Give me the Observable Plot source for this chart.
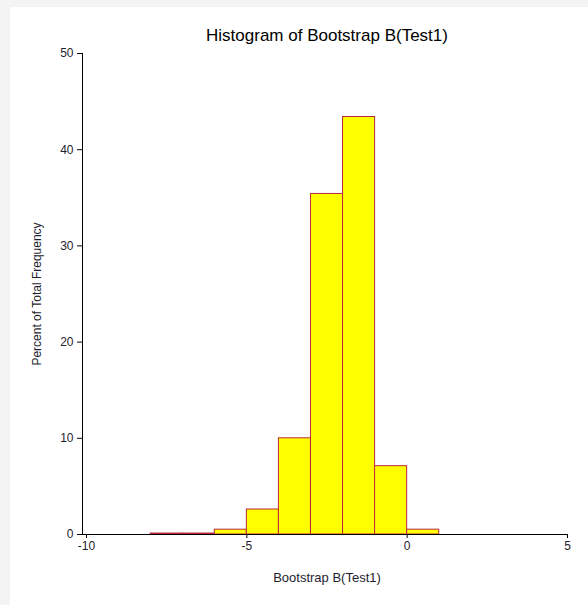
<!DOCTYPE html>
<html>
<head>
<meta charset="utf-8">
<script src="https://cdn.jsdelivr.net/npm/d3@7"></script>
<script src="https://cdn.jsdelivr.net/npm/@observablehq/plot@0.6"></script>
<style>
  html, body { margin: 0; padding: 0; background: #f4f4f4; }
  #panel { position: absolute; left: 10px; top: 7px; width: 578px; height: 598px; background: #fff; }
</style>
</head>
<body>
<div id="panel"></div>
<script>
const binStart = [-8, -7, -6, -5, -4, -3, -2, -1, 0];
const binWidth = 1;
const percent = [0.1, 0.1, 0.5, 2.6, 10.0, 35.4, 43.4, 7.1, 0.5];
const xTicks = [-10, -5, 0, 5];
const yTicks = [0, 10, 20, 30, 40, 50];
const title = "Histogram of Bootstrap B(Test1)";
const xLabel = "Bootstrap B(Test1)";
const yLabel = "Percent of Total Frequency";

const bins = binStart.map((s, i) => ({x1: s, x2: s + binWidth, y: percent[i]}));
const font = "'Liberation Sans', Arial, sans-serif";
const ink = "#1e1e2e";

const chart = Plot.plot({
  width: 578,
  height: 598,
  marginLeft: 76,
  marginRight: 21,
  marginTop: 46,
  marginBottom: 71,
  style: {fontFamily: font, fontSize: "12px", color: ink, background: "#fff"},
  x: {domain: [-10, 5]},
  y: {domain: [0, 50]},
  marks: [
    Plot.rectY(bins, {x1: "x1", x2: "x2", y: "y", fill: "#ffff00", stroke: "#b8283c", strokeWidth: 1}),
    Plot.ruleX([-10], {y1: 0, y2: 50, dx: -4, stroke: "#000"}),
    Plot.ruleY([0], {x1: -10, x2: 5, insetLeft: -4, stroke: "#000"}),
    Plot.axisX({ticks: xTicks, tickSize: 4, tickPadding: 3, tickFormat: d => String(d), label: null, fontSize: 12, stroke: "#000", fill: ink}),
    Plot.axisY({ticks: yTicks, tickSize: 5, tickPadding: 4, tickFormat: d => String(d), dx: -4, label: null, fontSize: 12, stroke: "#000", fill: ink}),
    Plot.text([title], {frameAnchor: "top", lineAnchor: "middle", dy: -18, fontSize: 17, fill: "#000", text: d => d}),
    Plot.text([xLabel], {frameAnchor: "bottom", lineAnchor: "middle", dy: 43, fontSize: 13, fill: ink, text: d => d}),
    Plot.text([yLabel], {frameAnchor: "left", textAnchor: "middle", lineAnchor: "middle", dx: -49, rotate: -90, fontSize: 12, fill: ink, text: d => d})
  ]
});
document.getElementById("panel").appendChild(chart);
</script>
</body>
</html>
